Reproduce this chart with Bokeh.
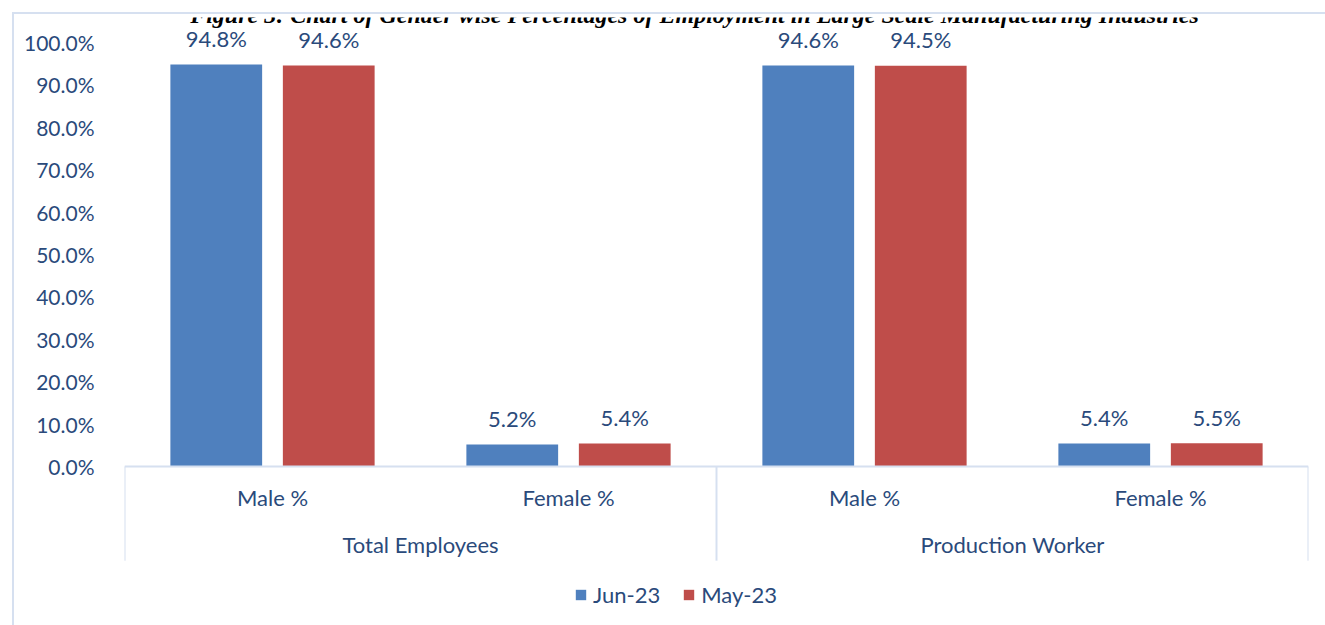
from bokeh.plotting import figure
from bokeh.models import (FactorRange, Range1d, Span, Label, Legend,
                          LegendItem, FixedTicker, ColumnDataSource)
from bokeh.transform import dodge
from bokeh.core.properties import value
from bokeh.embed import file_html
from bokeh.resources import INLINE

# ---- data ----
groups = ["Total Employees", "Production Worker"]
genders = ["Male %", "Female %"]
series = ["Jun-23", "May-23"]
jun23 = [94.8, 5.2, 94.6, 5.4]
may23 = [94.6, 5.4, 94.5, 5.5]
y_ticks = [0, 10, 20, 30, 40, 50, 60, 70, 80, 90, 100]
y_tick_labels = ["0.0%", "10.0%", "20.0%", "30.0%", "40.0%", "50.0%",
                 "60.0%", "70.0%", "80.0%", "90.0%", "100.0%"]
title_text = ("Figure 3: Chart of Gender wise Percentages of Employment "
              "in Large Scale Manufacturing Industries")

# ---- styles ----
FONT = "Lato"
TXT = "#2A4A7B"
BLUE = "#4F80BE"
RED = "#BF4D4A"
FRAME = "#D6E0F0"

factors = [(g, s) for g in groups for s in genders]
src = ColumnDataSource(dict(
    x=factors,
    jun=jun23,
    may=may23,
    jun_lbl=[f"{v:.1f}%" for v in jun23],
    may_lbl=[f"{v:.1f}%" for v in may23],
    sub=[s for g in groups for s in genders],
))
grp_src = ColumnDataSource(dict(x=groups, text=groups))
sep_left = ColumnDataSource(dict(x=[(g, genders[0]) for g in groups]))
sep_right = ColumnDataSource(dict(x=[(groups[-1], genders[-1])]))

xr = FactorRange(*factors, group_padding=0, range_padding=0)
p = figure(width=1325, height=625, x_range=xr, y_range=Range1d(-37.5, 105.9),
           x_axis_location=None, toolbar_location=None, output_backend="svg",
           min_border_left=124, min_border_right=17, min_border_top=17,
           min_border_bottom=0)
p.outline_line_color = None
p.grid.grid_line_color = None
p.background_fill_color = None
p.border_fill_color = None
# light chart-area border (left and top edges, as in the reference)
p.styles = {
    "background": (f"linear-gradient({FRAME},{FRAME}) 12px 12px / 2px 100% no-repeat, "
                   f"linear-gradient({FRAME},{FRAME}) 12px 12px / 100% 2px no-repeat, "
                   "white"),
}

ax = p.yaxis[0]
ax.ticker = FixedTicker(ticks=y_ticks)
ax.major_label_overrides = {t: l for t, l in zip(y_ticks, y_tick_labels)}
ax.axis_line_color = None
ax.major_tick_line_color = None
ax.minor_tick_line_color = None
ax.major_label_standoff = 24
ax.major_label_text_font = FONT
ax.major_label_text_font_size = "21px"
ax.major_label_text_color = TXT

# bars
r1 = p.vbar(x=dodge("x", -0.19, range=xr), top="jun", width=0.31, source=src,
            fill_color=BLUE, line_color=None)
r2 = p.vbar(x=dodge("x", 0.19, range=xr), top="may", width=0.31, source=src,
            fill_color=RED, line_color=None)

# data labels
common = dict(text_align="center", text_baseline="alphabetic", text_font=value(FONT),
              text_font_size="22px", text_color=TXT, source=src)
p.text(x=dodge("x", -0.19, range=xr), y="jun", text="jun_lbl", y_offset=-26, **common)
p.text(x=dodge("x", 0.19, range=xr), y="may", text="may_lbl", y_offset=-26, **common)

# category axis (drawn inside the frame)
p.add_layout(Span(location=0, dimension="width", line_color=FRAME, line_width=2))
p.segment(x0=dodge("x", -0.5, range=xr), x1=dodge("x", -0.5, range=xr), y0=0, y1=-22.2,
          source=sep_left, line_color=FRAME, line_width=2)
p.segment(x0=dodge("x", 0.5, range=xr), x1=dodge("x", 0.5, range=xr), y0=0, y1=-22.2,
          source=sep_right, line_color=FRAME, line_width=2)
p.text(x="x", y=-7.4, text="sub", **common)
gcommon = dict(common)
gcommon["source"] = grp_src
p.text(x="x", y=-18.3, text="text", **gcommon)

# title at the top edge, fully visible
p.add_layout(Label(x=570, y=624, x_units="screen", y_units="screen", text=title_text,
                   text_align="center", text_baseline="top",
                   text_font="Liberation Serif", text_font_style="bold italic",
                   text_font_size="24px", text_color="black",
                   background_fill_color="white"))

legend = Legend(items=[LegendItem(label=series[0], renderers=[r1]),
                       LegendItem(label=series[1], renderers=[r2])],
                orientation="horizontal", location=(450, 17),
                background_fill_alpha=0, border_line_color=None, padding=0, margin=0,
                spacing=22, label_standoff=6, glyph_width=13, glyph_height=13,
                label_text_font=FONT, label_text_font_size="22px",
                label_text_color=TXT)
p.add_layout(legend)

open("out.html", "w").write(file_html(p, INLINE))
